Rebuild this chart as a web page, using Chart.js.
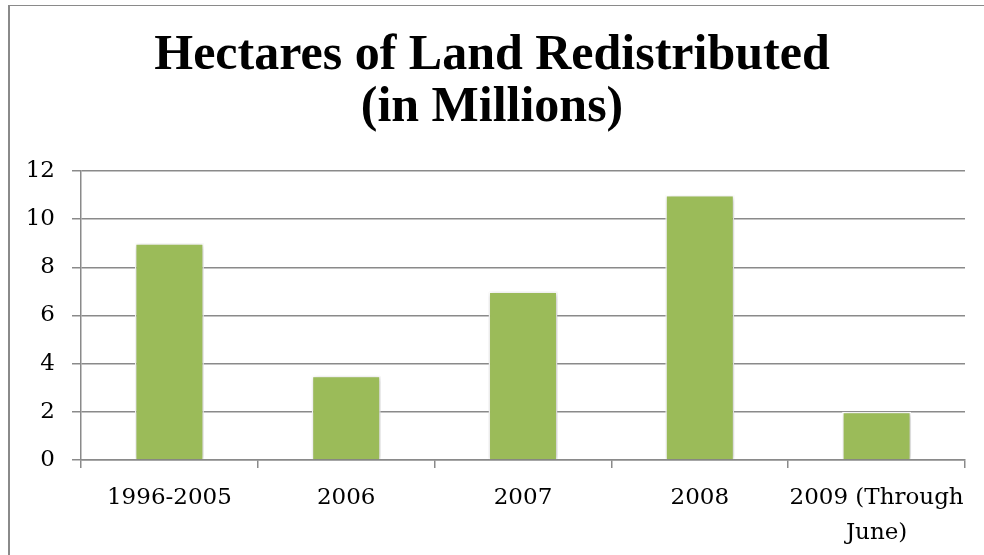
<!DOCTYPE html>
<html>
<head>
<meta charset="utf-8">
<title>Hectares of Land Redistributed</title>
<script src="https://cdn.jsdelivr.net/npm/chart.js@4.4.0/dist/chart.umd.min.js"></script>
<style>
  body { margin: 0; background: #fff; }
  #landChart { position: absolute; left: 0; top: 0; }
  #frame {
    position: absolute; left: 8px; top: 5px; width: 976px; height: 550px;
    border-left: 2px solid #8a8a8a; border-top: 1px solid #8a8a8a;
    pointer-events: none;
  }
</style>
</head>
<body>
<canvas id="landChart" width="984" height="555"></canvas>
<div id="frame"></div>
<script>
var categories = ['1996-2005', '2006', '2007', '2008', ['2009 (Through', 'June)']];
var hectares = [9, 3.5, 7, 11, 2];
var yTickValues = [0, 2, 4, 6, 8, 10, 12];
var titleLines = ['Hectares of Land Redistributed', '(in Millions)'];

// soft drop shadow behind the bars
var barShadow = {
    id: 'barShadow',
    afterLayout: function(chart) {
        // center the title on the whole canvas, not just up to the right padding
        var t = chart.titleBlock;
        if (t) { t.left = 0; t.right = chart.width; }
    },
    beforeDatasetsDraw: function(chart) {
        var ctx = chart.ctx;
        ctx.save();
        ctx.shadowColor = 'rgba(0,0,0,0.28)';
        ctx.shadowBlur = 5;
        ctx.shadowOffsetX = 1;
        ctx.shadowOffsetY = 1;
    },
    afterDatasetsDraw: function(chart) {
        chart.ctx.restore();
    }
};

var tickFont = { family: "'DejaVu Serif', serif", size: 23 };

var landChart = new Chart(document.getElementById('landChart'), {
    type: 'bar',
    data: {
        labels: categories,
        datasets: [{
            label: 'Hectares',
            data: hectares,
            backgroundColor: '#9bbb59',
            borderColor: '#ffffff',
            borderWidth: 1.5,
            categoryPercentage: 1,
            barPercentage: 0.39
        }]
    },
    options: {
        responsive: false,
        animation: false,
        layout: { padding: { left: 0, right: 19, top: 0, bottom: 0 } },
        plugins: {
            legend: { display: false },
            tooltip: { enabled: false },
            title: {
                display: true,
                text: titleLines,
                color: '#000',
                font: { family: "'Liberation Serif', serif", size: 50, weight: 'bold', lineHeight: 1.04 },
                padding: { top: 30, bottom: 37 }
            }
        },
        scales: {
            x: {
                grid: {
                    offset: true,
                    drawOnChartArea: false,
                    drawTicks: true,
                    tickLength: 8,
                    color: '#8a8a8a',
                    lineWidth: 1.5
                },
                border: { display: true, color: '#8a8a8a', width: 1.5 },
                ticks: {
                    color: '#000',
                    font: { family: tickFont.family, size: tickFont.size, lineHeight: 1.5 },
                    padding: 13,
                    autoSkip: false,
                    maxRotation: 0
                },
                afterFit: function(scale) { scale.height = 95; }
            },
            y: {
                min: yTickValues[0],
                max: yTickValues[yTickValues.length - 1],
                afterBuildTicks: function(scale) {
                    scale.ticks = yTickValues.map(function(v) { return { value: v }; });
                },
                grid: {
                    color: '#8a8a8a',
                    lineWidth: 1.5,
                    drawTicks: true,
                    tickLength: 9
                },
                border: { display: true, color: '#8a8a8a', width: 1.5 },
                ticks: {
                    color: '#000',
                    font: tickFont,
                    padding: 17
                },
                afterFit: function(scale) { scale.width = 81; }
            }
        }
    },
    plugins: [barShadow]
});
</script>
</body>
</html>
